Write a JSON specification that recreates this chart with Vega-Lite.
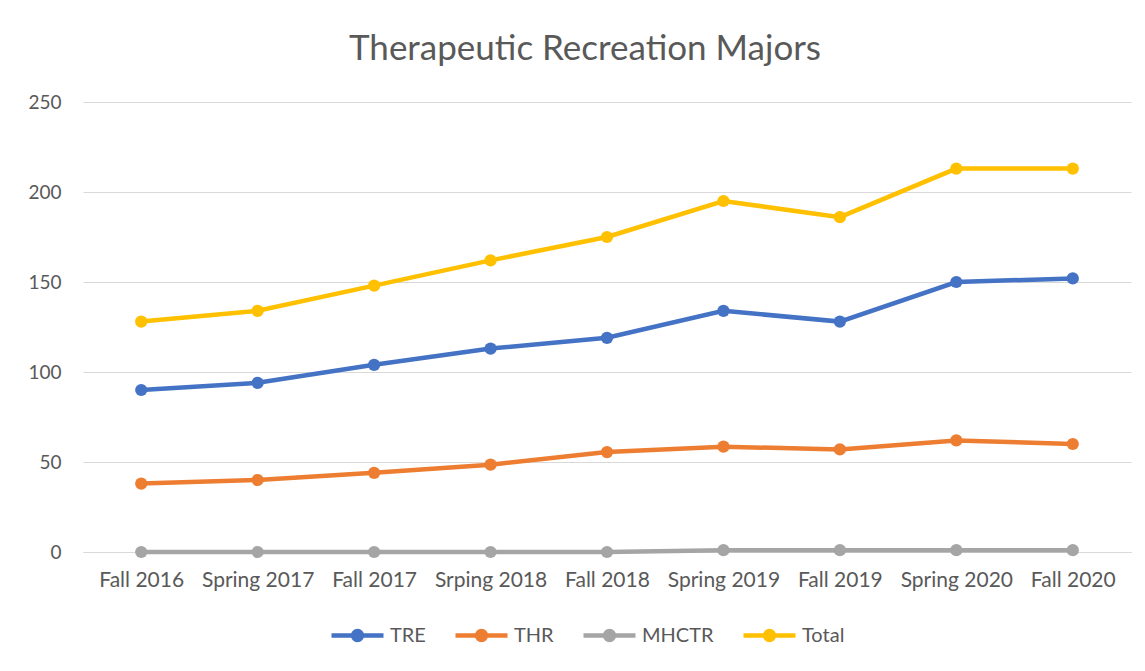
{
  "$schema": "https://vega.github.io/schema/vega-lite/v6.json",
  "width": 1048,
  "height": 450,
  "autosize": {"type": "none"},
  "padding": {"left": 83, "top": 102, "right": 14, "bottom": 119},
  "background": "white",
  "title": {
    "text": "Therapeutic Recreation Majors",
    "font": "Lato",
    "fontSize": 35,
    "fontWeight": "normal",
    "color": "#595959",
    "anchor": "middle",
    "frame": "group",
    "dx": -22,
    "offset": 30,
    "dy": 32,
    "baseline": "alphabetic"
  },
  "config": {
    "view": {"stroke": null},
    "axis": {"labelFont": "Lato", "labelFontSize": 19, "labelColor": "#595959", "titleFont": "Lato"}
  },
  "data": {
    "values": [
      {"term": "Fall 2016", "series": "TRE", "count": 90},
      {"term": "Spring 2017", "series": "TRE", "count": 94},
      {"term": "Fall 2017", "series": "TRE", "count": 104},
      {"term": "Srping 2018", "series": "TRE", "count": 113},
      {"term": "Fall 2018", "series": "TRE", "count": 119},
      {"term": "Spring 2019", "series": "TRE", "count": 134},
      {"term": "Fall 2019", "series": "TRE", "count": 128},
      {"term": "Spring 2020", "series": "TRE", "count": 150},
      {"term": "Fall 2020", "series": "TRE", "count": 152},
      {"term": "Fall 2016", "series": "THR", "count": 38},
      {"term": "Spring 2017", "series": "THR", "count": 40},
      {"term": "Fall 2017", "series": "THR", "count": 44},
      {"term": "Srping 2018", "series": "THR", "count": 48.5},
      {"term": "Fall 2018", "series": "THR", "count": 55.5},
      {"term": "Spring 2019", "series": "THR", "count": 58.5},
      {"term": "Fall 2019", "series": "THR", "count": 57},
      {"term": "Spring 2020", "series": "THR", "count": 62},
      {"term": "Fall 2020", "series": "THR", "count": 60},
      {"term": "Fall 2016", "series": "MHCTR", "count": 0},
      {"term": "Spring 2017", "series": "MHCTR", "count": 0},
      {"term": "Fall 2017", "series": "MHCTR", "count": 0},
      {"term": "Srping 2018", "series": "MHCTR", "count": 0},
      {"term": "Fall 2018", "series": "MHCTR", "count": 0},
      {"term": "Spring 2019", "series": "MHCTR", "count": 1},
      {"term": "Fall 2019", "series": "MHCTR", "count": 1},
      {"term": "Spring 2020", "series": "MHCTR", "count": 1},
      {"term": "Fall 2020", "series": "MHCTR", "count": 1},
      {"term": "Fall 2016", "series": "Total", "count": 128},
      {"term": "Spring 2017", "series": "Total", "count": 134},
      {"term": "Fall 2017", "series": "Total", "count": 148},
      {"term": "Srping 2018", "series": "Total", "count": 162},
      {"term": "Fall 2018", "series": "Total", "count": 175},
      {"term": "Spring 2019", "series": "Total", "count": 195},
      {"term": "Fall 2019", "series": "Total", "count": 186},
      {"term": "Spring 2020", "series": "Total", "count": 213},
      {"term": "Fall 2020", "series": "Total", "count": 213}
    ]
  },
  "mark": {"type": "line", "strokeWidth": 4.5, "point": {"filled": true, "size": 150}},
  "encoding": {
    "x": {
      "field": "term",
      "type": "nominal",
      "sort": null,
      "scale": {"type": "point", "padding": 0.5},
      "axis": {
        "title": null,
        "labelAngle": 0,
        "labelFontSize": 21,
        "ticks": false,
        "domain": true,
        "domainColor": "#D9D9D9",
        "domainWidth": 1,
        "labelPadding": 17,
        "grid": false
      }
    },
    "y": {
      "field": "count",
      "type": "quantitative",
      "scale": {"domain": [0, 250], "nice": false},
      "axis": {
        "title": null,
        "values": [0, 50, 100, 150, 200, 250],
        "domain": false,
        "ticks": false,
        "grid": true,
        "gridColor": "#D9D9D9",
        "gridWidth": 1,
        "labelPadding": 22
      }
    },
    "color": {
      "field": "series",
      "type": "nominal",
      "scale": {
        "domain": ["TRE", "THR", "MHCTR", "Total"],
        "range": ["#4472C4", "#ED7D31", "#A5A5A5", "#FFC000"]
      },
      "legend": {
        "orient": "none",
        "legendX": 246,
        "legendY": 505,
        "direction": "horizontal",
        "title": null,
        "symbolType": "M-1,0L1,0M0.17,0A0.17,0.17,0,1,1,-0.17,0A0.17,0.17,0,1,1,0.17,0Z",
        "symbolSize": 2704,
        "symbolStrokeWidth": 4.5,
        "labelFont": "Lato",
        "labelFontSize": 20,
        "labelColor": "#595959",
        "labelOffset": 4,
        "columnPadding": 20,
        "encode": {"symbols": {"update": {"fill": {"scale": "color", "field": "value"}}}}
      }
    }
  }
}
